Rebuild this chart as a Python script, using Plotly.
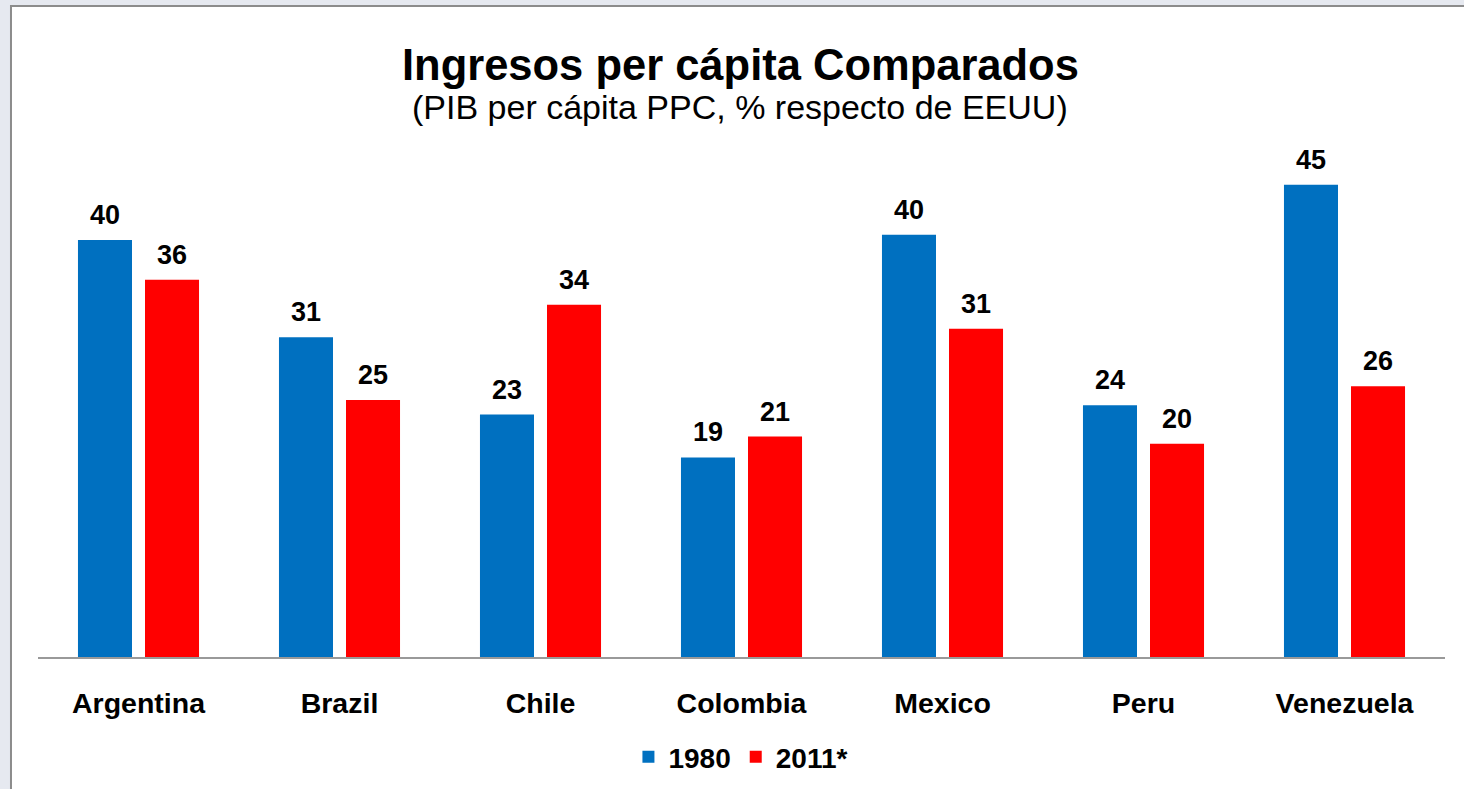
import plotly.graph_objects as go

categories = ["Argentina", "Brazil", "Chile", "Colombia", "Mexico", "Peru", "Venezuela"]
values_1980 = [39.9, 30.6, 23.2, 19.1, 40.4, 24.1, 45.2]
values_2011 = [36.1, 24.6, 33.7, 21.1, 31.4, 20.4, 25.9]
series_names = ["1980", "2011*"]
title_text = "Ingresos per cápita Comparados"
subtitle_text = "(PIB per cápita PPC, % respecto de EEUU)"

BLUE = "#0070C0"
RED = "#FF0000"
FONT = "Liberation Sans"

fig = go.Figure()
fig.add_trace(go.Bar(x=categories, y=values_1980, name=series_names[0],
                     marker=dict(color=BLUE, line=dict(width=0))))
fig.add_trace(go.Bar(x=categories, y=values_2011, name=series_names[1],
                     marker=dict(color=RED, line=dict(width=0))))

annotations = []
for cat, v1, v2 in zip(categories, values_1980, values_2011):
    for v, dx in ((v1, -33.5), (v2, 33.5)):
        annotations.append(dict(x=cat, y=v, xref="x", yref="y", text=f"{round(v)}",
                                showarrow=False, xshift=dx, yshift=8, yanchor="bottom",
                                font=dict(family=FONT, size=27, color="black", weight="bold")))

annotations.append(dict(x=0.499, y=1.1233, xref="paper", yref="paper", text=title_text,
                        showarrow=False, xanchor="center", yanchor="middle",
                        font=dict(family=FONT, size=43.5, color="black", weight="bold")))
annotations.append(dict(x=0.499, y=1.0436, xref="paper", yref="paper", text=subtitle_text,
                        showarrow=False, xanchor="center", yanchor="middle",
                        font=dict(family=FONT, size=34, color="black")))

fig.update_layout(
    width=1464, height=789,
    margin=dict(l=38, r=19, t=130, b=132, autoexpand=False),
    paper_bgcolor="#E6E9F0",
    plot_bgcolor="rgba(0,0,0,0)",
    barmode="group",
    bargap=0.333,
    bargroupgap=0.194,
    showlegend=True,
    legend=dict(orientation="h", xref="paper", x=0.4996, yref="container", y=0.0406,
                xanchor="center", yanchor="middle",
                font=dict(family=FONT, size=28, color="black", weight="bold"),
                bgcolor="rgba(0,0,0,0)", itemsizing="constant"),
    annotations=annotations,
    shapes=[dict(type="rect", xref="paper", yref="paper", x0=-0.0192, x1=1.0178,
                 y0=-0.271, y1=1.2353, fillcolor="white",
                 line=dict(color="#8C8C8C", width=2), layer="below")],
    xaxis=dict(showline=True, linecolor="#999999", linewidth=2, ticks="",
               showgrid=False, ticklabelstandoff=20, automargin=False,
               tickfont=dict(family=FONT, size=28.5, color="black", weight="bold")),
    yaxis=dict(range=[0, 50.43], visible=False, showgrid=False, zeroline=False,
               automargin=False),
)

fig.write_html("out.html", config={"displayModeBar": False},
               post_script="document.body.style.margin='0';")
